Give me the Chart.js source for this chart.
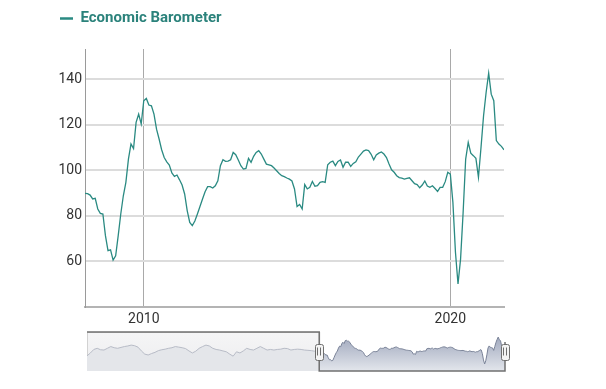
<!DOCTYPE html>
<html>
<head>
<meta charset="utf-8">
<script src="https://cdn.jsdelivr.net/npm/chart.js@4.4.1/dist/chart.umd.min.js"></script>
<style>
  html, body { margin: 0; padding: 0; background: #fff; }
  #wrap { position: relative; width: 606px; height: 389px; }
  #mainChart { position: absolute; left: 0; top: 0; }
  #navChart { position: absolute; left: 0; top: 320px; }
</style>
</head>
<body>
<div id="wrap">
  <canvas id="mainChart" width="606" height="330"></canvas>
  <canvas id="navChart" width="606" height="66"></canvas>
</div>
<script>
const seriesName = 'Economic Barometer';

// monthly values, Feb 2008 .. Oct 2021 (visible range)
const mainStartYear = 2008;
const mainStartMonth = 2;
const mainValues = [
  89.9, 89.7, 89.1, 87.4, 87.7, 83.0, 81.1, 80.8, 71.3, 64.7,
  65.1, 60.6, 62.5, 71.3, 80.8, 88.8, 94.7, 104.9, 111.5, 109.5,
  121.0, 124.6, 120.3, 130.5, 131.5, 128.6, 128.3, 124.6, 118.0, 113.7,
  109.0, 105.6, 103.7, 102.3, 98.8, 97.3, 97.9, 95.8, 93.5, 89.6,
  82.3, 77.1, 75.7, 77.7, 80.8, 84.1, 87.4, 90.6, 92.8, 92.8,
  92.2, 93.2, 95.4, 102.0, 104.6, 103.9, 104.0, 104.6, 107.8, 106.8,
  104.5, 102.0, 100.5, 100.8, 105.2, 103.5, 106.1, 107.8, 108.6, 107.1,
  104.9, 102.7, 102.4, 102.0, 101.0, 99.8, 98.6, 97.6, 97.2, 96.6,
  96.1, 95.3, 91.8, 84.1, 85.0, 83.0, 93.7, 91.8, 92.5, 95.1,
  93.0, 93.2, 94.7, 95.0, 94.7, 102.4, 103.5, 104.0, 102.0, 103.9,
  104.5, 101.3, 103.5, 103.5, 101.7, 103.0, 103.7, 105.8, 107.1, 108.4,
  108.9, 108.6, 107.0, 104.6, 106.7, 107.5, 108.0, 107.1, 105.6, 102.7,
  100.2, 99.1, 97.6, 96.8, 96.5, 96.1, 96.4, 96.7, 95.4, 94.1,
  93.7, 92.3, 93.5, 95.3, 93.1, 92.5, 93.2, 92.0, 90.7, 92.5,
  92.5, 95.0, 99.1, 98.3, 85.9, 64.0, 50.1, 61.0, 81.5, 104.9,
  112.2, 107.5, 106.4, 105.2, 96.9, 110.0, 123.9, 134.1, 142.6, 133.4,
  130.5, 113.0, 111.5, 110.5, 109.0
];

// quarterly values 1991 .. 2007, read from the navigator
const earlyStartYear = 1991;
const earlyValues = [
  78, 88, 100, 104,
  99, 98, 104, 110,
  106, 104, 107, 110,
  112, 115, 113, 108,
  95, 84, 81, 86,
  90, 96, 99, 101,
  104, 106, 110, 108,
  106, 103, 95, 88,
  94, 104, 110, 115,
  112, 104, 100, 98,
  95, 92, 84, 77,
  92, 88, 95, 104,
  100, 98, 104, 110,
  104, 98, 100, 98,
  100, 101, 104, 103,
  98, 100, 101, 100,
  98, 97, 96, 94
];

const yTicks = [60, 80, 100, 120, 140];
const xTickYears = [2010, 2020];

const mainX = mainValues.map((v, i) => mainStartYear + (mainStartMonth - 1 + i) / 12);
const earlyX = earlyValues.map((v, i) => earlyStartYear + i / 4);
const mainPoints = mainValues.map((v, i) => ({ x: mainX[i], y: v }));
const earlyPoints = earlyValues.map((v, i) => ({ x: earlyX[i], y: v }));

Chart.defaults.font.family = "Roboto, 'DejaVu Sans', sans-serif";

const legendSpace = {
  id: 'legendSpace',
  beforeInit(chart) {
    const fit = chart.legend.fit;
    chart.legend.fit = function () {
      fit.bind(chart.legend)();
      this.height = 48;
    };
  }
};

new Chart(document.getElementById('mainChart'), {
  type: 'line',
  data: {
    datasets: [{
      label: seriesName,
      data: mainPoints,
      borderColor: '#2a8a82',
      borderWidth: 1.3,
      pointRadius: 0,
      tension: 0
    }]
  },
  options: {
    responsive: false,
    animation: false,
    devicePixelRatio: 1,
    layout: { padding: { left: 50, right: 102, top: 1, bottom: 0 } },
    plugins: {
      tooltip: { enabled: false },
      legend: {
        position: 'top',
        align: 'start',
        labels: {
          padding: 10,
          usePointStyle: true,
          pointStyleWidth: 13,
          font: { size: 15, weight: 'bold' },
          generateLabels: () => [{
            text: seriesName,
            fillStyle: '#2a8a82',
            strokeStyle: '#2a8a82',
            fontColor: '#2b827b',
            lineWidth: 2.5,
            pointStyle: 'line',
            datasetIndex: 0
          }]
        }
      }
    },
    scales: {
      x: {
        type: 'linear',
        min: mainX[0],
        max: mainX[mainX.length - 1],
        afterBuildTicks: scale => { scale.ticks = xTickYears.map(v => ({ value: v })); },
        afterFit: scale => { scale.height = 23; },
        ticks: {
          autoSkip: false,
          maxRotation: 0,
          padding: 4,
          color: '#333',
          font: { size: 14 },
          callback: v => String(v)
        },
        grid: { color: '#a9a9a9', lineWidth: 1, drawTicks: false },
        border: { display: true, color: '#b4b4b4', width: 2 }
      },
      y: {
        min: 40,
        max: 153.2,
        afterBuildTicks: scale => { scale.ticks = yTicks.map(v => ({ value: v })); },
        afterFit: scale => { scale.width = 35; },
        ticks: { padding: 3, color: '#333', font: { size: 14 } },
        grid: { color: '#dcdcdc', lineWidth: 2, drawTicks: false },
        border: { display: true, color: '#9a9a9a', width: 1 }
      }
    }
  },
  plugins: [legendSpace]
});

function drawHandle(ctx, x, cy) {
  const w = 8, h = 16;
  ctx.beginPath();
  if (ctx.roundRect) ctx.roundRect(Math.round(x - w / 2) + 0.5, Math.round(cy - h / 2) + 0.5, w, h, 2);
  else ctx.rect(Math.round(x - w / 2) + 0.5, Math.round(cy - h / 2) + 0.5, w, h);
  ctx.fillStyle = '#f4f4f4';
  ctx.fill();
  ctx.strokeStyle = '#6f6f6f';
  ctx.lineWidth = 1;
  ctx.stroke();
  ctx.beginPath();
  ctx.moveTo(Math.round(x) - 1.5, cy - 4);
  ctx.lineTo(Math.round(x) - 1.5, cy + 4);
  ctx.moveTo(Math.round(x) + 1.5, cy - 4);
  ctx.lineTo(Math.round(x) + 1.5, cy + 4);
  ctx.stroke();
}

const navigatorFrame = {
  id: 'navigatorFrame',
  beforeDatasetsDraw(chart) {
    const { ctx, chartArea: a, scales: { x } } = chart;
    const xs = x.getPixelForValue(mainX[0]);
    ctx.save();
    const g = ctx.createLinearGradient(0, a.top, 0, a.bottom);
    g.addColorStop(0, '#f5f5f6');
    g.addColorStop(1, '#ededef');
    ctx.fillStyle = g;
    ctx.fillRect(a.left, a.top, xs - a.left, a.bottom - a.top);
    ctx.strokeStyle = '#d2d2d2';
    ctx.lineWidth = 1;
    ctx.strokeRect(a.left + 0.5, a.top + 0.5, xs - a.left, a.bottom - a.top - 1);
    ctx.restore();
  },
  afterDatasetsDraw(chart) {
    const { ctx, chartArea: a, scales: { x } } = chart;
    const xs = x.getPixelForValue(mainX[0]);
    const xe = x.getPixelForValue(mainX[mainX.length - 1]);
    ctx.save();
    ctx.strokeStyle = '#707070';
    ctx.lineWidth = 1.5;
    ctx.beginPath();
    ctx.moveTo(a.left, a.top);
    ctx.lineTo(xs, a.top);
    ctx.lineTo(xs, a.bottom);
    ctx.lineTo(xe, a.bottom);
    ctx.lineTo(xe, a.top + 10);
    ctx.stroke();
    const cy = (a.top + a.bottom) / 2;
    drawHandle(ctx, xs, cy);
    drawHandle(ctx, xe, cy);
    ctx.restore();
  }
};

function selectedFill(context) {
  const { ctx, chartArea } = context.chart;
  if (!chartArea) return '#c0c6d4';
  const g = ctx.createLinearGradient(0, chartArea.top, 0, chartArea.bottom);
  g.addColorStop(0, '#98a1b8');
  g.addColorStop(1, '#e3e6ec');
  return g;
}

new Chart(document.getElementById('navChart'), {
  type: 'line',
  data: {
    datasets: [{
      data: earlyPoints.concat([mainPoints[0]]),
      borderColor: '#b8bcc7',
      borderWidth: 1,
      backgroundColor: '#e4e6ea',
      fill: 'start',
      pointRadius: 0,
      tension: 0
    }, {
      data: mainPoints,
      borderColor: '#7a8398',
      borderWidth: 1,
      backgroundColor: selectedFill,
      fill: 'start',
      pointRadius: 0,
      tension: 0
    }]
  },
  options: {
    responsive: false,
    animation: false,
    devicePixelRatio: 1,
    layout: { padding: { left: 87, right: 101, top: 12, bottom: 15 } },
    plugins: { legend: { display: false }, tooltip: { enabled: false } },
    scales: {
      x: { type: 'linear', display: false, min: earlyStartYear, max: mainX[mainX.length - 1] },
      y: { display: false, min: 26, max: 160 }
    }
  },
  plugins: [navigatorFrame]
});
</script>
</body>
</html>
